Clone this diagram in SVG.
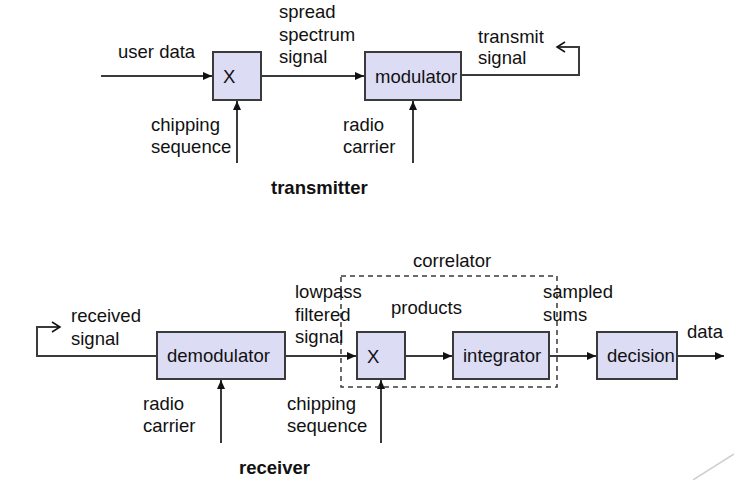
<svg xmlns="http://www.w3.org/2000/svg" width="734" height="480" viewBox="0 0 734 480">
<defs>
<style>
.box{fill:#dcdcf5;stroke:#3a3a3a;stroke-width:2}
.ln{fill:none;stroke:#3a3a3a;stroke-width:2}
.t{font-family:"Liberation Sans",Arial,sans-serif;font-size:18.5px;fill:#111}
.b{font-weight:bold}
.dash{fill:none;stroke:#3a3a3a;stroke-width:1.5;stroke-dasharray:5,4}
</style>
<marker id="ah" markerWidth="10" markerHeight="10" refX="9" refY="5" orient="auto" markerUnits="userSpaceOnUse">
<path d="M0,1 L9,5 L0,9 Z" fill="#111"/>
</marker>
<marker id="oh" markerWidth="12" markerHeight="12" refX="10" refY="6" orient="auto" markerUnits="userSpaceOnUse">
<path d="M2,1 L10,6 L2,11" fill="none" stroke="#111" stroke-width="1.5"/>
</marker>
</defs>
<rect width="734" height="480" fill="#fff"/>
<g id="connectors">
<line class="ln" x1="101" y1="76" x2="212" y2="76" marker-end="url(#ah)"/>
<line class="ln" x1="261" y1="76" x2="364" y2="76" marker-end="url(#ah)"/>
<line class="ln" x1="237" y1="163" x2="237" y2="101" marker-end="url(#ah)"/>
<line class="ln" x1="413" y1="163" x2="413" y2="101" marker-end="url(#ah)"/>
<polyline class="ln" points="461,75 579,75 579,47 557,47" marker-end="url(#oh)"/>
<polyline class="ln" points="157,356 37,356 37,327 60,327" marker-end="url(#oh)"/>
<line class="ln" x1="221" y1="443" x2="221" y2="380" marker-end="url(#ah)"/>
<line class="ln" x1="285" y1="356" x2="356" y2="356" marker-end="url(#ah)"/>
<line class="ln" x1="381" y1="443" x2="381" y2="380" marker-end="url(#ah)"/>
<line class="ln" x1="405" y1="356" x2="452" y2="356" marker-end="url(#ah)"/>
<line class="ln" x1="549" y1="356" x2="596" y2="356" marker-end="url(#ah)"/>
<line class="ln" x1="677" y1="356" x2="724" y2="356" marker-end="url(#ah)"/>
</g>
<g id="correlator">
<rect class="dash" x="341" y="276" width="216" height="111"/>
<text class="t" x="413" y="267">correlator</text>
</g>
<g id="mult1"><rect class="box" x="213" y="52" width="48" height="48"/><text class="t" x="223" y="83">X</text></g>
<g id="modulator"><rect class="box" x="365" y="52" width="96" height="48"/><text class="t" x="375" y="83">modulator</text></g>
<g id="demodulator"><rect class="box" x="157" y="332" width="128" height="47"/><text class="t" x="167" y="362">demodulator</text></g>
<g id="mult2"><rect class="box" x="357" y="332" width="48" height="47"/><text class="t" x="367" y="363">X</text></g>
<g id="integrator"><rect class="box" x="453" y="332" width="96" height="47"/><text class="t" x="463" y="362">integrator</text></g>
<g id="decision"><rect class="box" x="597" y="332" width="80" height="47"/><text class="t" x="607" y="362">decision</text></g>
<g id="labels">
<text class="t" x="118" y="58">user data</text>
<text class="t" x="279" y="18">spread</text>
<text class="t" x="279" y="41">spectrum</text>
<text class="t" x="279" y="63">signal</text>
<text class="t" x="478" y="43">transmit</text>
<text class="t" x="478" y="64">signal</text>
<text class="t" x="151" y="131">chipping</text>
<text class="t" x="151" y="153">sequence</text>
<text class="t" x="343" y="131">radio</text>
<text class="t" x="343" y="153">carrier</text>
<text class="t b" x="271" y="194">transmitter</text>
<text class="t" x="71" y="322">received</text>
<text class="t" x="71" y="345">signal</text>
<text class="t" x="295" y="298">lowpass</text>
<text class="t" x="295" y="321">filtered</text>
<text class="t" x="295" y="343">signal</text>
<text class="t" x="391" y="314">products</text>
<text class="t" x="543" y="298">sampled</text>
<text class="t" x="543" y="321">sums</text>
<text class="t" x="687" y="338">data</text>
<text class="t" x="143" y="410">radio</text>
<text class="t" x="143" y="432">carrier</text>
<text class="t" x="287" y="410">chipping</text>
<text class="t" x="287" y="432">sequence</text>
<text class="t b" x="239" y="474">receiver</text>
</g>
<line x1="693" y1="480" x2="734" y2="454" stroke="#d0d0d0" stroke-width="1.5"/>
</svg>
